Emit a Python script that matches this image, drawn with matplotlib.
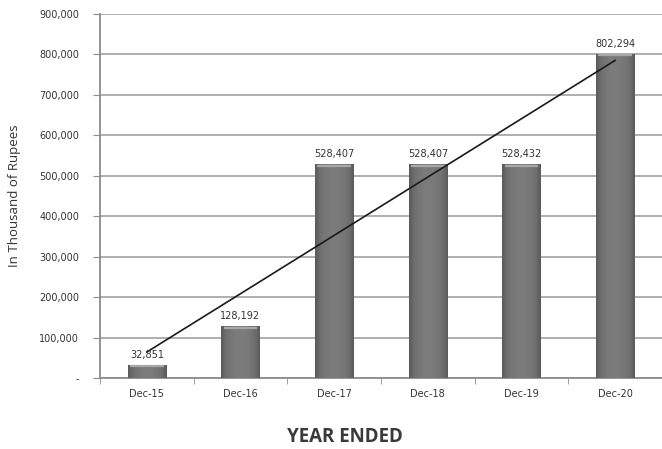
import numpy as np
import matplotlib.pyplot as plt
from matplotlib.colors import LinearSegmentedColormap
from matplotlib.ticker import FuncFormatter

years = ["Dec-15", "Dec-16", "Dec-17", "Dec-18", "Dec-19", "Dec-20"]
values = [32851, 128192, 528407, 528407, 528432, 802294]
y_ticks = [0, 100000, 200000, 300000, 400000, 500000, 600000, 700000, 800000, 900000]

fig = plt.figure(figsize=(6.62, 4.49), dpi=100)
ax = fig.add_axes([100 / 662, 71 / 449, 562 / 662, 364 / 449])

x = np.arange(len(years))
bars = ax.bar(x, values, width=0.41, color="#727272", zorder=3)

# soft shading on each bar: slightly darker edges, pale cap on top
shade = LinearSegmentedColormap.from_list("shade", ["#7c7c7c", "#707070", "#5a5a5a"])
grad = np.abs(np.linspace(-1, 1, 64)) ** 2
grad = np.tile(grad, (64, 1))
for b in bars:
    x0, w, h = b.get_x(), b.get_width(), b.get_height()
    im = ax.imshow(grad, cmap=shade, vmin=0, vmax=1, aspect="auto",
                   extent=[x0, x0 + w, 0, h], zorder=3.1, interpolation="bicubic")
    im.set_clip_path(b)
    ax.plot([x0 + w * 0.06, x0 + w * 0.94], [h - 4000, h - 4000], color="#a8a8a8",
            lw=1.6, zorder=3.2, solid_capstyle="butt")

# linear trend line across the years
coef = np.polyfit(x, values, 1)
ax.plot(x, np.polyval(coef, x), color="#1a1a1a", lw=1.2, zorder=4)

for xi, v in zip(x, values):
    ax.text(xi, v + 12000, f"{v:,}", ha="center", va="bottom",
            fontsize=7, color="#333333", zorder=5)

ax.set_xlim(-0.5, len(years) - 0.5)
ax.set_ylim(0, 900000)
ax.set_yticks(y_ticks)
ax.yaxis.set_major_formatter(FuncFormatter(lambda v, p: "-" if v == 0 else f"{int(v):,}"))
ax.set_xticks(x)
ax.set_xticklabels(years)
ax.set_xticks(np.arange(-0.5, len(years)), minor=True)
ax.tick_params(axis="x", which="major", length=0, labelsize=7, colors="#333333", pad=8)
ax.tick_params(axis="x", which="minor", length=4, color="#8c8c8c")
ax.tick_params(axis="y", length=5, labelsize=7, colors="#333333", color="#8c8c8c", pad=10)

ax.grid(axis="y", color="#a8a8a8", lw=1.3, zorder=0)
for side in ["top", "right"]:
    ax.spines[side].set_visible(False)
for side in ["left", "bottom"]:
    ax.spines[side].set_color("#8c8c8c")
    ax.spines[side].set_linewidth(1.3)

fig.text(15 / 662, 1 - 196 / 449, "In Thousand of Rupees", rotation=90,
         ha="center", va="center", fontsize=9.5, color="#333333", family="Open Sans")
fig.text(345 / 662, 1 - 437 / 449, "YEAR ENDED", ha="center", va="center",
         fontsize=13.5, fontweight="bold", color="#3a3a3a", family="Open Sans")

fig.savefig("out.png", dpi=100)
